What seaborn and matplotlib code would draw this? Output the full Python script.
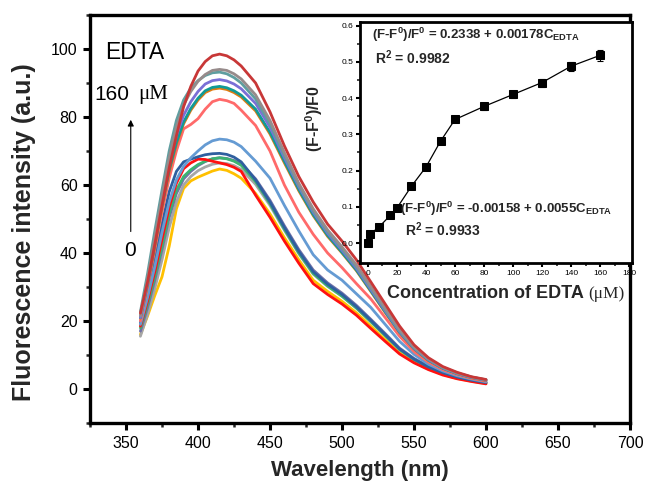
import matplotlib
matplotlib.use('Agg')
import matplotlib.pyplot as plt
import numpy as np
import pandas as pd
import seaborn as sns
from matplotlib.ticker import MultipleLocator

# ---------------- data ----------------
wavelength = [360, 365, 370, 375, 380, 385, 390, 395, 400, 405, 410, 415, 420, 425, 430,
              440, 450, 460, 470, 480, 490, 500, 510, 520, 530, 540, 550, 560, 570, 580, 590, 600]

conc_order = ['0', '1.5', '7.5', '15.5', '20', '30', '40', '50', '60', '80', '100', '120', '140', '160']

spec_0 = [16, 21.5, 27.5, 33, 42, 53, 59, 61.2, 62.3, 63.2, 64.1, 64.7, 64.3, 63.3, 62, 57.5, 51.5, 44.5, 38, 32, 28.7, 25.8, 22.4, 18.5, 14.5, 10.6, 7.9, 5.9, 4.3, 3.1, 2.3, 1.6]
spec_1_5 = [15.5, 22, 29.5, 38, 47.5, 55, 60, 62.5, 64.2, 65.3, 66.1, 66.5, 66.3, 65.7, 64.6, 60.2, 54, 46.7, 39.8, 33.8, 30.2, 27.3, 23.8, 19.8, 15.7, 11.6, 8.7, 6.4, 4.7, 3.4, 2.5, 1.8]
spec_7_5 = [17, 24, 32, 41, 50.5, 57.5, 61.8, 64, 65.7, 66.9, 67.7, 68, 67.8, 67.2, 66.2, 61.8, 55.5, 48, 41, 35, 31.2, 28.2, 24.6, 20.5, 16.3, 12, 9, 6.7, 4.9, 3.6, 2.6, 1.9]
spec_15_5 = [18, 25, 33, 42, 51.5, 58.5, 62.5, 64.5, 66, 67, 67.7, 68, 67.7, 67, 65.8, 61, 54.5, 47, 40, 34, 30.3, 27.3, 23.8, 19.8, 15.7, 11.6, 8.6, 6.4, 4.7, 3.4, 2.5, 1.8]
spec_20 = [18.5, 26, 34.5, 44, 53.5, 60.5, 64.8, 66.5, 67.6, 67.5, 67, 66.5, 66, 65.2, 64, 57, 50.5, 43.5, 37, 31, 27.8, 25, 21.7, 17.8, 14, 10.3, 7.7, 5.7, 4.1, 3, 2.2, 1.5]
spec_30 = [19.5, 28, 38, 48.5, 58, 64, 66.8, 67.6, 68.3, 68.9, 69.2, 69.3, 69, 68.2, 66.8, 61.5, 55, 47.5, 40.5, 34.5, 30.8, 27.8, 24.2, 20.2, 16, 11.8, 8.8, 6.5, 4.8, 3.5, 2.6, 1.9]
spec_40 = [19, 27, 36, 46, 55, 61.5, 65.5, 68, 70, 71.8, 73, 73.5, 73.3, 72.6, 71.3, 67, 62, 54, 46.5, 39.5, 35, 32, 28, 24, 19, 14, 10.2, 7.3, 5.3, 3.9, 2.9, 2.1]
spec_50 = [20, 30, 41, 52, 62, 70, 76.5, 77.8, 79.5, 82.3, 84.5, 85.2, 84.8, 84, 82, 77.5, 70, 60, 52, 45.5, 40, 35.7, 31, 26.5, 21, 15.5, 11, 7.9, 5.7, 4.2, 3.1, 2.3]
spec_60 = [20.8, 30.8, 42, 53.5, 64, 72, 78, 82, 85, 87.2, 88.2, 88.5, 88.1, 87.2, 85.9, 81.8, 75, 66.5, 58.3, 51, 44.9, 40, 34.8, 28.7, 22.5, 16.6, 11.8, 8.4, 6.1, 4.5, 3.3, 2.5]
spec_80 = [21, 31, 42.5, 54, 64.5, 72.5, 78.5, 82.5, 85.5, 87.7, 88.7, 89, 88.6, 87.7, 86.4, 82.3, 75.5, 67, 58.7, 51.3, 45.2, 40.2, 35, 28.9, 22.7, 16.7, 11.9, 8.5, 6.1, 4.5, 3.4, 2.6]
spec_100 = [21, 31.5, 43.5, 55, 66, 74.5, 80.5, 84.5, 87.5, 89.7, 90.7, 91, 90.6, 89.7, 88.3, 84, 77, 68, 59.5, 52, 45.8, 40.8, 35.5, 29.3, 23, 16.9, 12, 8.6, 6.2, 4.6, 3.4, 2.6]
spec_120 = [22.7, 34, 46.5, 58.5, 70, 79, 85, 88.5, 90.7, 92.2, 93, 93.2, 92.7, 91.6, 90, 85.3, 78, 68.8, 60, 52.5, 46.3, 41.3, 36, 29.8, 23.4, 17.2, 12.2, 8.8, 6.3, 4.7, 3.5, 2.7]
spec_140 = [21.5, 32.5, 44.5, 56.5, 68, 77, 83.5, 87.5, 90.5, 92.5, 93.7, 94, 93.7, 92.7, 91.2, 86.5, 79, 69.5, 60.5, 53, 46.8, 41.8, 36.5, 30.2, 23.8, 17.5, 12.4, 8.9, 6.4, 4.7, 3.5, 2.7]
spec_160 = [22.3, 31.5, 42.5, 54, 65, 74.5, 83, 89, 93.5, 96.3, 98, 98.5, 98, 96.8, 95, 90, 81.5, 71.5, 62.5, 55, 48.5, 43.5, 38, 31.5, 25, 18.5, 13, 9.2, 6.6, 4.9, 3.6, 2.8]

spectra = [spec_0, spec_1_5, spec_7_5, spec_15_5, spec_20, spec_30, spec_40,
           spec_50, spec_60, spec_80, spec_100, spec_120, spec_140, spec_160]

colors = ['#ffc000', '#a6a6a6', '#7070a8', '#3cb371', '#ff1010', '#2f5f9f', '#659bd3',
          '#ff6a6a', '#e07b10', '#109a96', '#7a6fd6', '#5f9ea0', '#978b8b', '#c83737']

# inset data
conc = [0, 1.5, 7.5, 15.5, 20, 30, 40, 50, 60, 80, 100, 120, 140, 160]
response = [0.0, 0.025, 0.044, 0.077, 0.097, 0.157, 0.210, 0.281, 0.341, 0.377, 0.410, 0.443, 0.488, 0.518]
resp_err = [0.003, 0.004, 0.004, 0.004, 0.005, 0.005, 0.006, 0.007, 0.008, 0.009, 0.010, 0.011, 0.013, 0.015]

# ---------------- style ----------------
sns.set_theme(style='ticks')
plt.rcParams['font.family'] = ['Liberation Sans', 'DejaVu Sans']
plt.rcParams['mathtext.fontset'] = 'custom'
plt.rcParams['mathtext.rm'] = 'Liberation Sans'
plt.rcParams['mathtext.bf'] = 'Liberation Sans:bold'
plt.rcParams['mathtext.it'] = 'Liberation Sans:italic'

W, H = 651, 486
fig = plt.figure(figsize=(W / 100, H / 100), dpi=100)
fig.patch.set_facecolor('white')

# main axes: pixel box left 90, right 630, top 15, bottom 423
ax = fig.add_axes([90 / W, 1 - 423 / H, 540 / W, 408 / H])
ax.set_facecolor('white')

rows = []
for c, s in zip(conc_order, spectra):
    for wl, v in zip(wavelength, s):
        rows.append((wl, v, c))
df = pd.DataFrame(rows, columns=['Wavelength', 'Intensity', 'Conc'])

sns.lineplot(data=df, x='Wavelength', y='Intensity', hue='Conc', hue_order=conc_order,
             palette=colors, linewidth=2.0, legend=False, ax=ax, estimator=None, sort=False)

ax.set_xlim(325, 700)
ax.set_ylim(-10, 110)
ax.xaxis.set_major_locator(MultipleLocator(50))
ax.xaxis.set_minor_locator(MultipleLocator(25))
ax.yaxis.set_major_locator(MultipleLocator(20))
ax.yaxis.set_minor_locator(MultipleLocator(10))
ax.set_xticks(range(350, 701, 50))
for sp in ax.spines.values():
    sp.set_visible(True)
    sp.set_linewidth(2.4)
    sp.set_color('black')
ax.tick_params(which='major', direction='out', length=5, width=2.2, labelsize=11.5,
               colors='black', top=False, right=False, pad=4)
ax.tick_params(which='minor', direction='out', length=3, width=1.8, top=False, right=False)
ax.set_xlabel('Wavelength (nm)', fontsize=16, fontweight='bold', labelpad=7)
ax.set_ylabel('Fluorescence intensity (a.u.)', fontsize=18, fontweight='bold')
ax.yaxis.set_label_coords(-0.100, 0.468)

ax.text(335.2, 99, 'EDTA', fontsize=16.5, ha='left', va='center', color='black')
ax.text(328.3, 86.7, '160', fontsize=15, ha='left', va='center', color='black')
ax.text(358.4, 86.7, 'μM', fontsize=15, ha='left', va='center', color='black',
        family=['Liberation Serif', 'DejaVu Serif'])
ax.text(352.8, 40.8, '0', fontsize=15, ha='center', va='center', color='black')
ax.annotate('', xy=(353.3, 80.0), xytext=(353.3, 45.5),
            arrowprops=dict(arrowstyle='-|>', lw=0.8, color='black', mutation_scale=9))

# ---------------- inset ----------------
ax_in = fig.add_axes([360 / W, 1 - 263 / H, 272 / W, 241 / H])
ax_in.set_facecolor('white')
sns.lineplot(x=conc, y=response, ax=ax_in, color='black', linewidth=0.9, marker='s',
             markersize=5.5, markeredgecolor='black', markerfacecolor='black')
ax_in.errorbar(conc, response, yerr=resp_err, fmt='none', ecolor='black',
               elinewidth=0.8, capsize=2, capthick=0.8)
ax_in.set_xlim(-5.5, 182)
ax_in.set_ylim(-0.055, 0.61)
ax_in.xaxis.set_major_locator(MultipleLocator(20))
ax_in.xaxis.set_minor_locator(MultipleLocator(10))
ax_in.yaxis.set_major_locator(MultipleLocator(0.1))
ax_in.yaxis.set_minor_locator(MultipleLocator(0.05))
ax_in.yaxis.set_major_formatter(matplotlib.ticker.FormatStrFormatter('%.1f'))
for sp in ax_in.spines.values():
    sp.set_visible(True)
    sp.set_linewidth(2.0)
    sp.set_color('black')
ax_in.tick_params(which='major', direction='out', length=3, width=1.5, labelsize=6,
                  colors='black', top=False, right=False, pad=2)
ax_in.tick_params(which='minor', direction='out', length=2, width=1.2, top=False, right=False)
ax_in.set_xlabel('')
ax_in.set_ylabel(r'(F-F$^{\mathbf{0}}$)/F0', fontsize=11.5, fontweight='bold')
ax_in.yaxis.set_label_coords(-0.129, 0.60)

eq_fs = 9.5
ax_in.text(2.8, 0.575, r'(F-F$^{\mathbf{0}}$)/F$^{\mathbf{0}}$ = 0.2338 + 0.00178C$_{\mathbf{EDTA}}$',
           fontsize=eq_fs, fontweight='bold', ha='left', va='center')
ax_in.text(4.8, 0.512, r'R$^{\mathbf{2}}$ = 0.9982', fontsize=eq_fs + 0.5, fontweight='bold',
           ha='left', va='center')
ax_in.text(22, 0.095, r'(F-F$^{\mathbf{0}}$)/F$^{\mathbf{0}}$ = -0.00158 + 0.0055C$_{\mathbf{EDTA}}$',
           fontsize=eq_fs, fontweight='bold', ha='left', va='center')
ax_in.text(25.5, 0.037, r'R$^{\mathbf{2}}$ = 0.9933', fontsize=eq_fs + 0.5, fontweight='bold',
           ha='left', va='center')

fig.text(387 / W, 1 - 293 / H, 'Concentration of EDTA', fontsize=13, fontweight='bold',
         ha='left', va='center')
fig.text(588 / W, 1 - 294 / H, '(μM)', fontsize=12.5, ha='left', va='center',
         family=['Liberation Serif', 'DejaVu Serif'])

fig.savefig('out.png', dpi=100, facecolor='white')
